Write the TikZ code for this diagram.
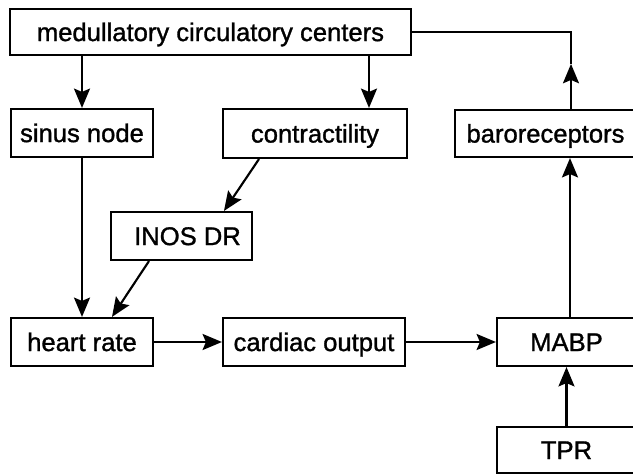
\documentclass[tikz,border=0pt]{standalone}
\usepackage{fontspec}
\setmainfont{Liberation Sans}[FakeBold=1.2]
\usetikzlibrary{arrows.meta,calc}
\begin{document}
\begin{tikzpicture}[x=0.75pt,y=-0.75pt,
  box/.style={draw,line width=1.6pt,inner sep=0pt,text height=13.6pt,text depth=0pt,font=\fontsize{19.2}{21}\selectfont},
  arr/.style={line width=1.6pt,-{Stealth[length=14.5pt,width=12pt,inset=2.5pt]}},
  ln/.style={line width=1.6pt}]
\useasboundingbox (0,0) rectangle (633,474);
\node[box,minimum width=401*0.75pt,minimum height=46*0.75pt] (top) at (210.5,32) {medullatory circulatory centers};
\node[box,minimum width=142*0.75pt,minimum height=48*0.75pt] (sinus) at (82,133) {sinus node};
\node[box,minimum width=184*0.75pt,minimum height=49*0.75pt] (contr) at (315,133.5) {contractility};
\node[box,minimum width=181*0.75pt,minimum height=47*0.75pt] (baro) at (545.5,133.5) {baroreceptors};
\node[box,minimum width=141*0.75pt,minimum height=48*0.75pt] (inos) at (181.5,236) {\hspace*{9pt}INOS DR};
\node[box,minimum width=142*0.75pt,minimum height=48*0.75pt] (heart) at (82,342) {heart rate};
\node[box,minimum width=182*0.75pt,minimum height=48*0.75pt] (cardiac) at (314,342) {cardiac output};
\node[box,minimum width=139*0.75pt,minimum height=48*0.75pt] (mabp) at (566.5,342) {MABP};
\node[box,minimum width=139*0.75pt,minimum height=46*0.75pt] (tpr) at (566.5,450) {TPR};
\coordinate (cin) at ($(contr.north)+(54,0)$);
\coordinate (bup) at ($(baro.north)+(25.5,0)$);
\coordinate (btip) at ($(bup)+(0,-45)$);
\coordinate (mup) at ($(mabp.north)+(3.5,0)$);
\draw[arr] (sinus.north |- top.south) -- (sinus.north);
\draw[arr] (cin |- top.south) -- (cin);
\draw[arr] (bup) -- (btip);
\draw[ln] (btip) -- (bup |- top.east) -- (top.east);
\draw[arr] (mup) -- (mup |- baro.south);
\draw[arr] (tpr.north) -- (mabp.south);
\draw[arr] (sinus.south) -- (heart.north);
\draw[arr] ($(contr.south)+(-56,0)$) -- ($(inos.north)+(42.5,0)$);
\draw[arr] ($(inos.south)+(-32.5,0)$) -- ($(heart.north)+(30,0)$);
\draw[arr] (heart.east) -- (cardiac.west);
\draw[arr] (cardiac.east) -- (mabp.west);
\end{tikzpicture}
\end{document}
